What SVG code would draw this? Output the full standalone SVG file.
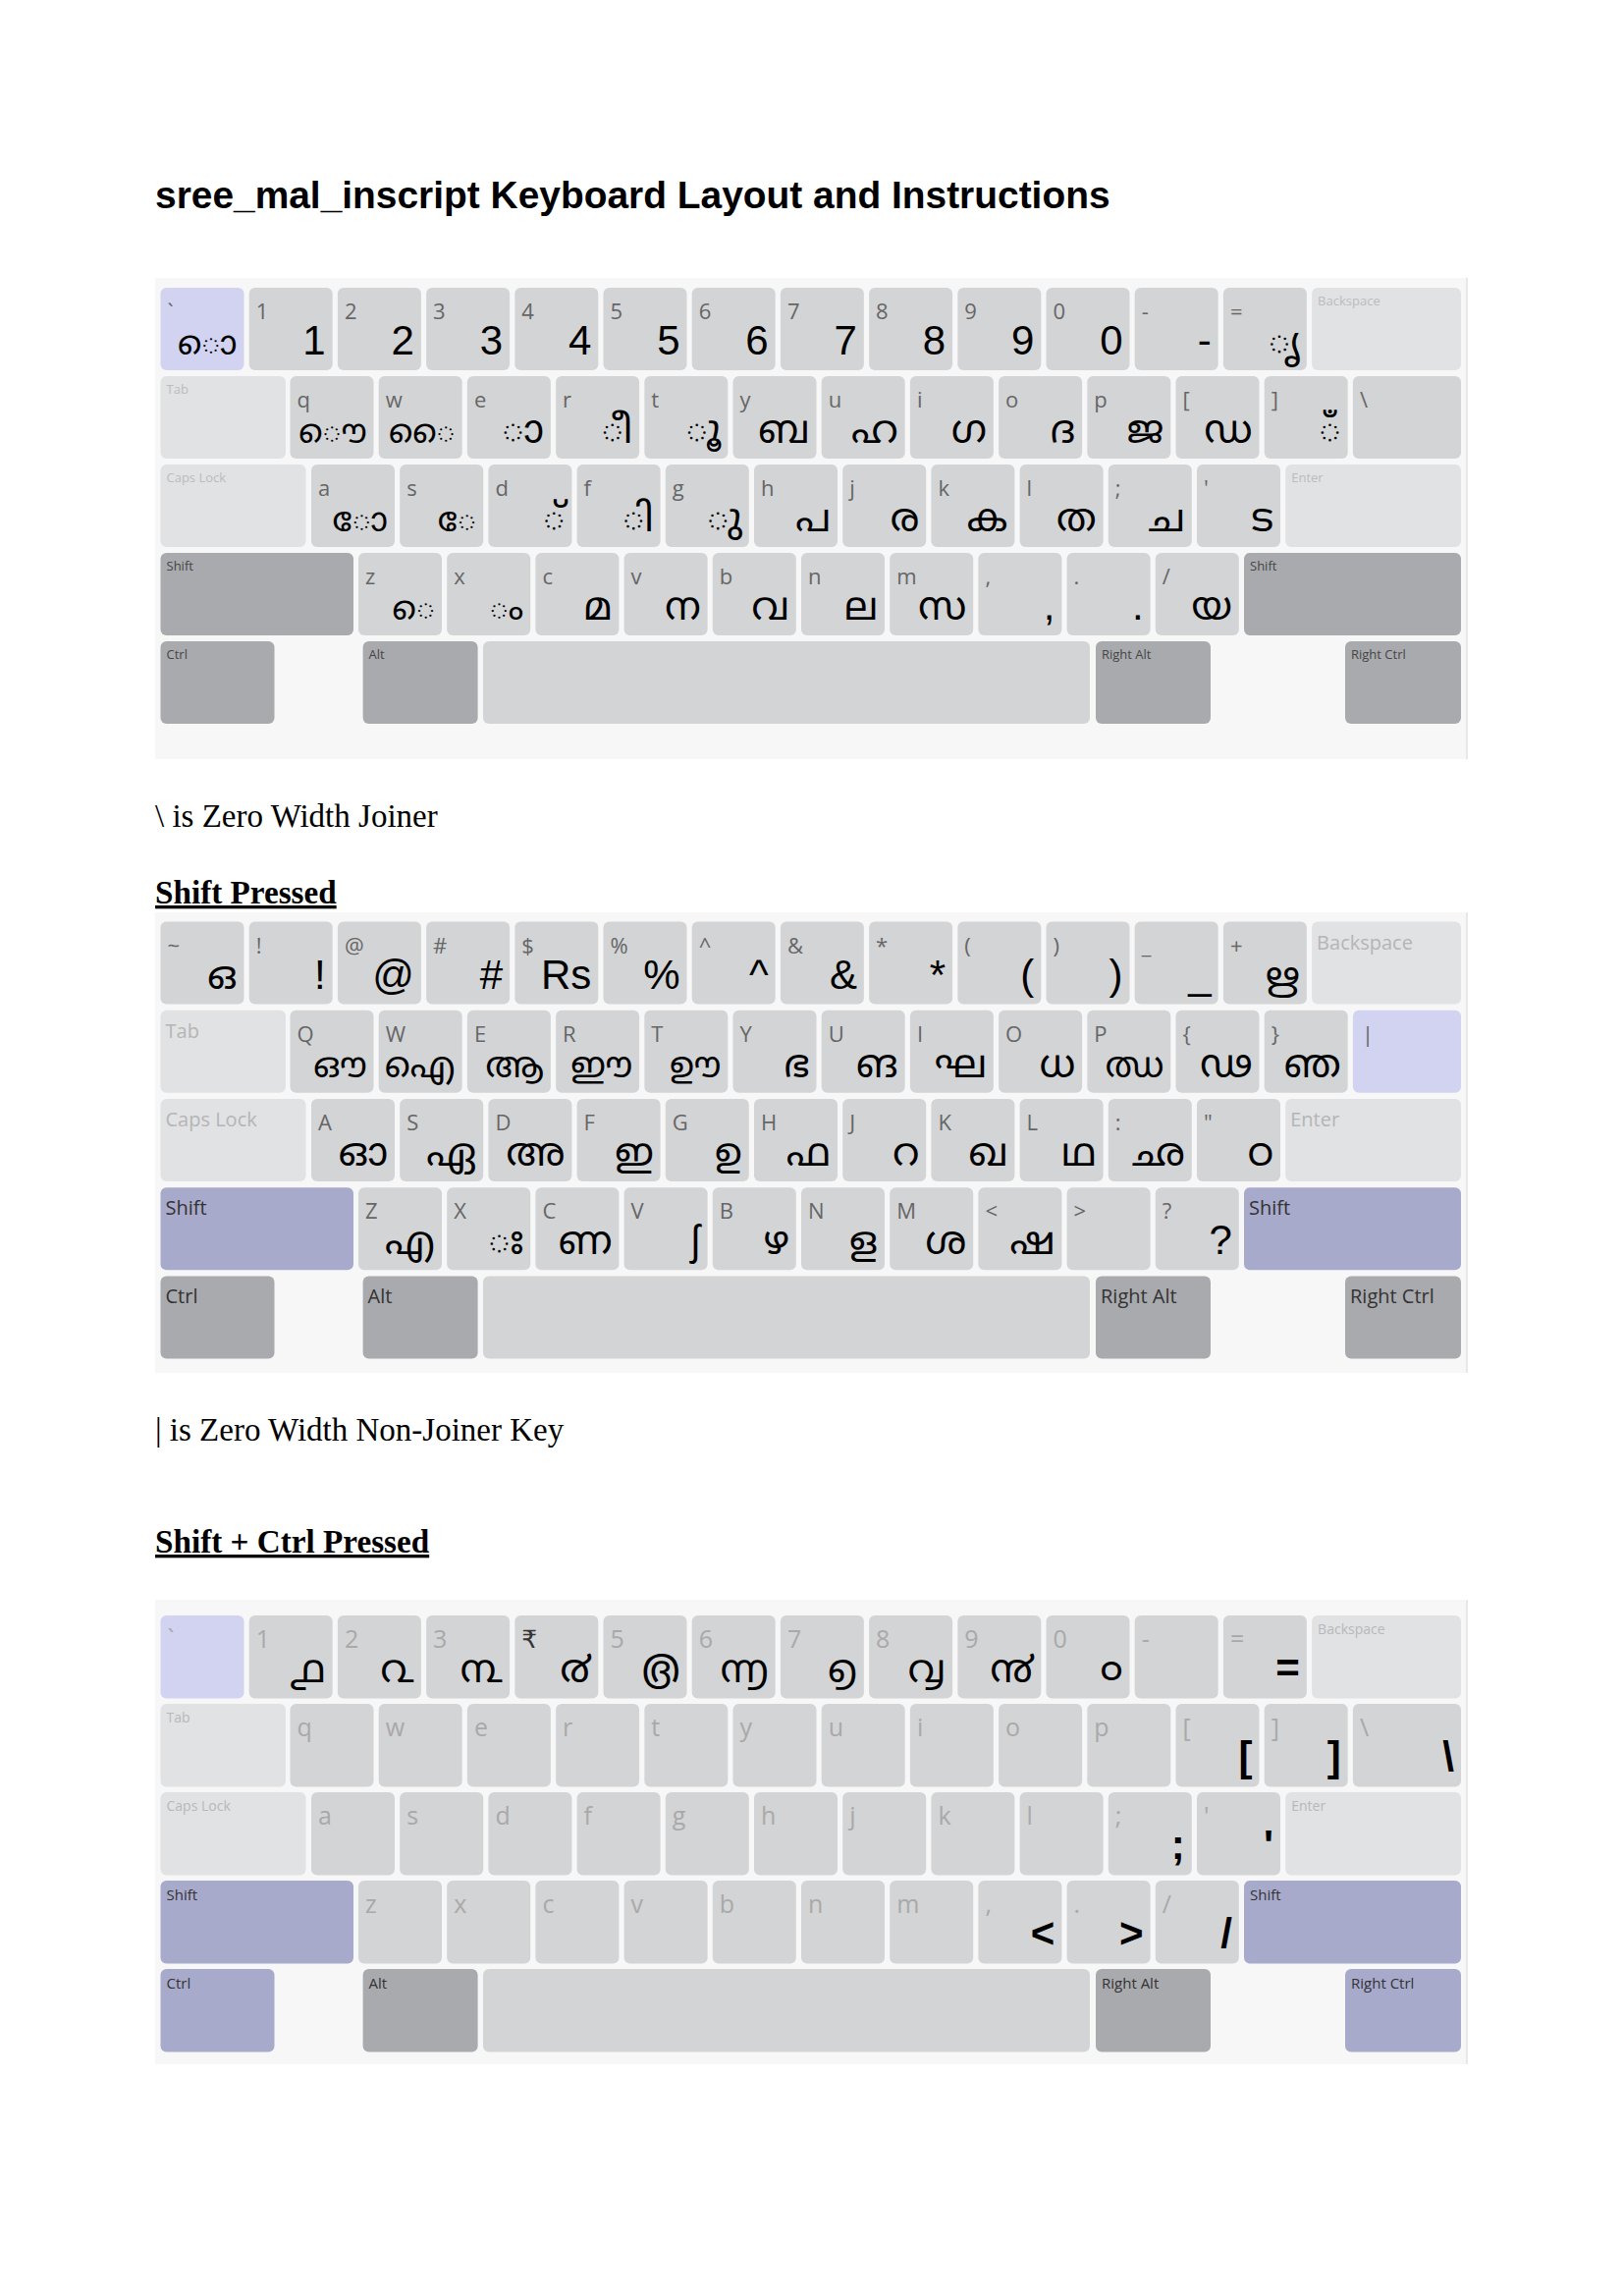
<svg xmlns="http://www.w3.org/2000/svg" width="1653" height="2338" viewBox="0 0 1653 2338">
<style>
.pn{fill:#f7f7f7}
.n{fill:#d3d4d6}.l{fill:#e1e2e4}.d{fill:#a9aaad}.v{fill:#d1d3f1}.s{fill:#a8aacc}
text{font-family:"Open Sans","DejaVu Sans",sans-serif}
.t{font-size:22px;fill:#666}
.t3{font-size:25px;fill:#a9a9a9}
.t3d{font-size:25px;fill:#333}
.q1{font-size:13px;fill:#bcbcbc}.m1{font-size:13px;fill:#454545}
.q2{font-size:20px;fill:#b5b5b5}.m2{font-size:20px;fill:#333}
.q3{font-size:14px;fill:#b8b8b8}.m3{font-size:15px;fill:#333}
.b{font-family:"Liberation Sans",Arial,sans-serif;font-size:42px;fill:#000;text-anchor:end}
.bb{font-family:"Liberation Sans",Arial,sans-serif;font-size:42px;font-weight:bold;fill:#000;text-anchor:end}
.ml{font-family:"Noto Sans Malayalam","Noto Serif Malayalam","Manjari","Meera","Rachana","Lohit Malayalam","Noto Sans",sans-serif;font-size:40px;fill:#000;text-anchor:end}
.ms{font-size:34px}
.mw{font-size:36px}
.h1{font-family:"Liberation Sans",Arial,sans-serif;font-weight:bold;font-size:38.9px;fill:#000}
.p{font-family:"Liberation Serif","Times New Roman",serif;font-size:33px;fill:#000}
.hd{font-family:"Liberation Serif","Times New Roman",serif;font-size:33.2px;font-weight:bold;fill:#000;text-decoration:underline}
.edge{stroke:#e2e2e2;stroke-width:1.5}
</style>

<text class="h1" x="158" y="212">sree_mal_inscript Keyboard Layout and Instructions</text>

<!-- Keyboard 1 -->
<g id="kb-normal">
<rect class="pn" x="158" y="283" width="1336" height="490"/>
<line class="edge" x1="1494" y1="283" x2="1494" y2="773"/>
<g id="a-grave" transform="translate(163.5,293)"><rect class="v" width="85" height="84" rx="6"/><text class="t" x="7" y="32">`</text><text class="ml ms" x="78" y="68">ൊ</text></g>
<g id="a-1" transform="translate(253.7,293)"><rect class="n" width="85" height="84" rx="6"/><text class="t" x="7" y="32">1</text><text class="b" x="78" y="68">1</text></g>
<g id="a-2" transform="translate(343.9,293)"><rect class="n" width="85" height="84" rx="6"/><text class="t" x="7" y="32">2</text><text class="b" x="78" y="68">2</text></g>
<g id="a-3" transform="translate(434.1,293)"><rect class="n" width="85" height="84" rx="6"/><text class="t" x="7" y="32">3</text><text class="b" x="78" y="68">3</text></g>
<g id="a-4" transform="translate(524.3,293)"><rect class="n" width="85" height="84" rx="6"/><text class="t" x="7" y="32">4</text><text class="b" x="78" y="68">4</text></g>
<g id="a-5" transform="translate(614.5,293)"><rect class="n" width="85" height="84" rx="6"/><text class="t" x="7" y="32">5</text><text class="b" x="78" y="68">5</text></g>
<g id="a-6" transform="translate(704.7,293)"><rect class="n" width="85" height="84" rx="6"/><text class="t" x="7" y="32">6</text><text class="b" x="78" y="68">6</text></g>
<g id="a-7" transform="translate(794.9,293)"><rect class="n" width="85" height="84" rx="6"/><text class="t" x="7" y="32">7</text><text class="b" x="78" y="68">7</text></g>
<g id="a-8" transform="translate(885.1,293)"><rect class="n" width="85" height="84" rx="6"/><text class="t" x="7" y="32">8</text><text class="b" x="78" y="68">8</text></g>
<g id="a-9" transform="translate(975.3,293)"><rect class="n" width="85" height="84" rx="6"/><text class="t" x="7" y="32">9</text><text class="b" x="78" y="68">9</text></g>
<g id="a-0" transform="translate(1065.5,293)"><rect class="n" width="85" height="84" rx="6"/><text class="t" x="7" y="32">0</text><text class="b" x="78" y="68">0</text></g>
<g id="a-minus" transform="translate(1155.7,293)"><rect class="n" width="85" height="84" rx="6"/><text class="t" x="7" y="32">-</text><text class="b" x="78" y="68">-</text></g>
<g id="a-equal" transform="translate(1245.9,293)"><rect class="n" width="85" height="84" rx="6"/><text class="t" x="7" y="32">=</text><text class="ml" x="78" y="68">ൃ</text></g>
<g id="a-bksp" transform="translate(1336.1,293)"><rect class="l" width="151.9" height="84" rx="6"/><text class="q1" x="6" y="18">Backspace</text></g>

<g id="a-tab" transform="translate(163.5,383)"><rect class="l" width="127.5" height="84" rx="6"/><text class="q1" x="6" y="18">Tab</text></g>
<g id="a-q" transform="translate(295.5,383)"><rect class="n" width="85" height="84" rx="6"/><text class="t" x="7" y="32">q</text><text class="ml ms" x="78" y="68">ൌ</text></g>
<g id="a-w" transform="translate(385.7,383)"><rect class="n" width="85" height="84" rx="6"/><text class="t" x="7" y="32">w</text><text class="ml ms" x="78" y="68">ൈ</text></g>
<g id="a-e" transform="translate(475.9,383)"><rect class="n" width="85" height="84" rx="6"/><text class="t" x="7" y="32">e</text><text class="ml" x="78" y="68">ാ</text></g>
<g id="a-r" transform="translate(566.1,383)"><rect class="n" width="85" height="84" rx="6"/><text class="t" x="7" y="32">r</text><text class="ml" x="78" y="68">ീ</text></g>
<g id="a-t" transform="translate(656.3,383)"><rect class="n" width="85" height="84" rx="6"/><text class="t" x="7" y="32">t</text><text class="ml" x="78" y="68">ൂ</text></g>
<g id="a-y" transform="translate(746.5,383)"><rect class="n" width="85" height="84" rx="6"/><text class="t" x="7" y="32">y</text><text class="ml" x="78" y="68">ബ</text></g>
<g id="a-u" transform="translate(836.7,383)"><rect class="n" width="85" height="84" rx="6"/><text class="t" x="7" y="32">u</text><text class="ml" x="78" y="68">ഹ</text></g>
<g id="a-i" transform="translate(926.9,383)"><rect class="n" width="85" height="84" rx="6"/><text class="t" x="7" y="32">i</text><text class="ml" x="78" y="68">ഗ</text></g>
<g id="a-o" transform="translate(1017.1,383)"><rect class="n" width="85" height="84" rx="6"/><text class="t" x="7" y="32">o</text><text class="ml" x="78" y="68">ദ</text></g>
<g id="a-p" transform="translate(1107.3,383)"><rect class="n" width="85" height="84" rx="6"/><text class="t" x="7" y="32">p</text><text class="ml" x="78" y="68">ജ</text></g>
<g id="a-lbr" transform="translate(1197.5,383)"><rect class="n" width="85" height="84" rx="6"/><text class="t" x="7" y="32">[</text><text class="ml" x="78" y="68">ഡ</text></g>
<g id="a-rbr" transform="translate(1287.7,383)"><rect class="n" width="85" height="84" rx="6"/><text class="t" x="7" y="32">]</text><text class="ml" x="78" y="68">ഁ</text></g>
<g id="a-bsl" transform="translate(1377.9,383)"><rect class="n" width="110.1" height="84" rx="6"/><text class="t" x="7" y="32">\</text></g>

<g id="a-caps" transform="translate(163.5,473)"><rect class="l" width="148" height="84" rx="6"/><text class="q1" x="6" y="18">Caps Lock</text></g>
<g id="a-a" transform="translate(317,473)"><rect class="n" width="85" height="84" rx="6"/><text class="t" x="7" y="32">a</text><text class="ml ms" x="78" y="68">ോ</text></g>
<g id="a-s" transform="translate(407.2,473)"><rect class="n" width="85" height="84" rx="6"/><text class="t" x="7" y="32">s</text><text class="ml ms" x="78" y="68">േ</text></g>
<g id="a-d" transform="translate(497.4,473)"><rect class="n" width="85" height="84" rx="6"/><text class="t" x="7" y="32">d</text><text class="ml" x="78" y="68">്</text></g>
<g id="a-f" transform="translate(587.6,473)"><rect class="n" width="85" height="84" rx="6"/><text class="t" x="7" y="32">f</text><text class="ml" x="78" y="68">ി</text></g>
<g id="a-g" transform="translate(677.8,473)"><rect class="n" width="85" height="84" rx="6"/><text class="t" x="7" y="32">g</text><text class="ml" x="78" y="68">ു</text></g>
<g id="a-h" transform="translate(768,473)"><rect class="n" width="85" height="84" rx="6"/><text class="t" x="7" y="32">h</text><text class="ml" x="78" y="68">പ</text></g>
<g id="a-j" transform="translate(858.2,473)"><rect class="n" width="85" height="84" rx="6"/><text class="t" x="7" y="32">j</text><text class="ml" x="78" y="68">ര</text></g>
<g id="a-k" transform="translate(948.4,473)"><rect class="n" width="85" height="84" rx="6"/><text class="t" x="7" y="32">k</text><text class="ml" x="78" y="68">ക</text></g>
<g id="a-l" transform="translate(1038.6,473)"><rect class="n" width="85" height="84" rx="6"/><text class="t" x="7" y="32">l</text><text class="ml" x="78" y="68">ത</text></g>
<g id="a-semi" transform="translate(1128.8,473)"><rect class="n" width="85" height="84" rx="6"/><text class="t" x="7" y="32">;</text><text class="ml" x="78" y="68">ച</text></g>
<g id="a-quote" transform="translate(1219,473)"><rect class="n" width="85" height="84" rx="6"/><text class="t" x="7" y="32">'</text><text class="ml" x="78" y="68">ട</text></g>
<g id="a-enter" transform="translate(1309.2,473)"><rect class="l" width="178.8" height="84" rx="6"/><text class="q1" x="6" y="18">Enter</text></g>

<g id="a-lshift" transform="translate(163.5,563)"><rect class="d" width="196.5" height="84" rx="6"/><text class="m1" x="6" y="18">Shift</text></g>
<g id="a-z" transform="translate(365,563)"><rect class="n" width="85" height="84" rx="6"/><text class="t" x="7" y="32">z</text><text class="ml ms" x="78" y="68">െ</text></g>
<g id="a-x" transform="translate(455.2,563)"><rect class="n" width="85" height="84" rx="6"/><text class="t" x="7" y="32">x</text><text class="ml ms" x="78" y="68">ം</text></g>
<g id="a-c" transform="translate(545.4,563)"><rect class="n" width="85" height="84" rx="6"/><text class="t" x="7" y="32">c</text><text class="ml" x="78" y="68">മ</text></g>
<g id="a-v" transform="translate(635.6,563)"><rect class="n" width="85" height="84" rx="6"/><text class="t" x="7" y="32">v</text><text class="ml" x="78" y="68">ന</text></g>
<g id="a-b" transform="translate(725.8,563)"><rect class="n" width="85" height="84" rx="6"/><text class="t" x="7" y="32">b</text><text class="ml" x="78" y="68">വ</text></g>
<g id="a-n" transform="translate(816,563)"><rect class="n" width="85" height="84" rx="6"/><text class="t" x="7" y="32">n</text><text class="ml" x="78" y="68">ല</text></g>
<g id="a-m" transform="translate(906.2,563)"><rect class="n" width="85" height="84" rx="6"/><text class="t" x="7" y="32">m</text><text class="ml" x="78" y="68">സ</text></g>
<g id="a-comma" transform="translate(996.4,563)"><rect class="n" width="85" height="84" rx="6"/><text class="t" x="7" y="32">,</text><text class="b" x="78" y="68">,</text></g>
<g id="a-period" transform="translate(1086.6,563)"><rect class="n" width="85" height="84" rx="6"/><text class="t" x="7" y="32">.</text><text class="b" x="78" y="68">.</text></g>
<g id="a-slash" transform="translate(1176.8,563)"><rect class="n" width="85" height="84" rx="6"/><text class="t" x="7" y="32">/</text><text class="ml" x="78" y="68">യ</text></g>
<g id="a-rshift" transform="translate(1267,563)"><rect class="d" width="221" height="84" rx="6"/><text class="m1" x="6" y="18">Shift</text></g>

<g id="a-lctrl" transform="translate(163.5,653)"><rect class="d" width="116" height="84" rx="6"/><text class="m1" x="6" y="18">Ctrl</text></g>
<g id="a-lalt" transform="translate(369.6,653)"><rect class="d" width="117" height="84" rx="6"/><text class="m1" x="6" y="18">Alt</text></g>
<g id="a-space" transform="translate(492,653)"><rect class="n" width="618" height="84" rx="6"/></g>
<g id="a-ralt" transform="translate(1116,653)"><rect class="d" width="117" height="84" rx="6"/><text class="m1" x="6" y="18">Right Alt</text></g>
<g id="a-rctrl" transform="translate(1370,653)"><rect class="d" width="118" height="84" rx="6"/><text class="m1" x="6" y="18">Right Ctrl</text></g>
</g>

<text class="p" x="158" y="842">\ is Zero Width Joiner</text>
<text class="hd" x="158" y="920">Shift Pressed</text>

<!-- Keyboard 2 -->
<g id="kb-shift">
<rect class="pn" x="158" y="929" width="1336" height="469"/>
<line class="edge" x1="1494" y1="929" x2="1494" y2="1398"/>
<g id="b-tilde" transform="translate(163.5,938.5)"><rect class="n" width="85" height="84" rx="6"/><text class="t" x="7" y="32">~</text><text class="ml" x="78" y="68">ഒ</text></g>
<g id="b-excl" transform="translate(253.7,938.5)"><rect class="n" width="85" height="84" rx="6"/><text class="t" x="7" y="32">!</text><text class="b" x="78" y="68">!</text></g>
<g id="b-at" transform="translate(343.9,938.5)"><rect class="n" width="85" height="84" rx="6"/><text class="t" x="7" y="32">@</text><text class="b" x="78" y="68">@</text></g>
<g id="b-hash" transform="translate(434.1,938.5)"><rect class="n" width="85" height="84" rx="6"/><text class="t" x="7" y="32">#</text><text class="b" x="78" y="68">#</text></g>
<g id="b-dollar" transform="translate(524.3,938.5)"><rect class="n" width="85" height="84" rx="6"/><text class="t" x="7" y="32">$</text><text class="b" x="78" y="68">Rs</text></g>
<g id="b-percent" transform="translate(614.5,938.5)"><rect class="n" width="85" height="84" rx="6"/><text class="t" x="7" y="32">%</text><text class="b" x="78" y="68">%</text></g>
<g id="b-caret" transform="translate(704.7,938.5)"><rect class="n" width="85" height="84" rx="6"/><text class="t" x="7" y="32">^</text><text class="b" x="78" y="68">^</text></g>
<g id="b-amp" transform="translate(794.9,938.5)"><rect class="n" width="85" height="84" rx="6"/><text class="t" x="7" y="32">&amp;</text><text class="b" x="78" y="68">&amp;</text></g>
<g id="b-star" transform="translate(885.1,938.5)"><rect class="n" width="85" height="84" rx="6"/><text class="t" x="7" y="32">*</text><text class="b" x="78" y="68">*</text></g>
<g id="b-lpar" transform="translate(975.3,938.5)"><rect class="n" width="85" height="84" rx="6"/><text class="t" x="7" y="32">(</text><text class="b" x="78" y="68">(</text></g>
<g id="b-rpar" transform="translate(1065.5,938.5)"><rect class="n" width="85" height="84" rx="6"/><text class="t" x="7" y="32">)</text><text class="b" x="78" y="68">)</text></g>
<g id="b-under" transform="translate(1155.7,938.5)"><rect class="n" width="85" height="84" rx="6"/><text class="t" x="7" y="32">_</text><text class="b" x="78" y="68">_</text></g>
<g id="b-plus" transform="translate(1245.9,938.5)"><rect class="n" width="85" height="84" rx="6"/><text class="t" x="7" y="32">+</text><text class="ml" x="78" y="68">ഋ</text></g>
<g id="b-bksp" transform="translate(1336.1,938.5)"><rect class="l" width="151.9" height="84" rx="6"/><text class="q2" x="5" y="28">Backspace</text></g>

<g id="b-tab" transform="translate(163.5,1028.8)"><rect class="l" width="127.5" height="84" rx="6"/><text class="q2" x="5" y="28">Tab</text></g>
<g id="b-Q" transform="translate(295.5,1028.8)"><rect class="n" width="85" height="84" rx="6"/><text class="t" x="7" y="32">Q</text><text class="ml mw" x="78" y="68">ഔ</text></g>
<g id="b-W" transform="translate(385.7,1028.8)"><rect class="n" width="85" height="84" rx="6"/><text class="t" x="7" y="32">W</text><text class="ml mw" x="78" y="68">ഐ</text></g>
<g id="b-E" transform="translate(475.9,1028.8)"><rect class="n" width="85" height="84" rx="6"/><text class="t" x="7" y="32">E</text><text class="ml mw" x="78" y="68">ആ</text></g>
<g id="b-R" transform="translate(566.1,1028.8)"><rect class="n" width="85" height="84" rx="6"/><text class="t" x="7" y="32">R</text><text class="ml mw" x="78" y="68">ഈ</text></g>
<g id="b-T" transform="translate(656.3,1028.8)"><rect class="n" width="85" height="84" rx="6"/><text class="t" x="7" y="32">T</text><text class="ml mw" x="78" y="68">ഊ</text></g>
<g id="b-Y" transform="translate(746.5,1028.8)"><rect class="n" width="85" height="84" rx="6"/><text class="t" x="7" y="32">Y</text><text class="ml" x="78" y="68">ഭ</text></g>
<g id="b-U" transform="translate(836.7,1028.8)"><rect class="n" width="85" height="84" rx="6"/><text class="t" x="7" y="32">U</text><text class="ml" x="78" y="68">ങ</text></g>
<g id="b-I" transform="translate(926.9,1028.8)"><rect class="n" width="85" height="84" rx="6"/><text class="t" x="7" y="32">I</text><text class="ml" x="78" y="68">ഘ</text></g>
<g id="b-O" transform="translate(1017.1,1028.8)"><rect class="n" width="85" height="84" rx="6"/><text class="t" x="7" y="32">O</text><text class="ml" x="78" y="68">ധ</text></g>
<g id="b-P" transform="translate(1107.3,1028.8)"><rect class="n" width="85" height="84" rx="6"/><text class="t" x="7" y="32">P</text><text class="ml mw" x="78" y="68">ഝ</text></g>
<g id="b-lbrace" transform="translate(1197.5,1028.8)"><rect class="n" width="85" height="84" rx="6"/><text class="t" x="7" y="32">{</text><text class="ml" x="78" y="68">ഢ</text></g>
<g id="b-rbrace" transform="translate(1287.7,1028.8)"><rect class="n" width="85" height="84" rx="6"/><text class="t" x="7" y="32">}</text><text class="ml" x="78" y="68">ഞ</text></g>
<g id="b-pipe" transform="translate(1377.9,1028.8)"><rect class="v" width="110.1" height="84" rx="6"/><text class="t" x="9" y="32">|</text></g>

<g id="b-caps" transform="translate(163.5,1119)"><rect class="l" width="148" height="84" rx="6"/><text class="q2" x="5" y="28">Caps Lock</text></g>
<g id="b-A" transform="translate(317,1119)"><rect class="n" width="85" height="84" rx="6"/><text class="t" x="7" y="32">A</text><text class="ml" x="78" y="68">ഓ</text></g>
<g id="b-S" transform="translate(407.2,1119)"><rect class="n" width="85" height="84" rx="6"/><text class="t" x="7" y="32">S</text><text class="ml" x="78" y="68">ഏ</text></g>
<g id="b-D" transform="translate(497.4,1119)"><rect class="n" width="85" height="84" rx="6"/><text class="t" x="7" y="32">D</text><text class="ml" x="78" y="68">അ</text></g>
<g id="b-F" transform="translate(587.6,1119)"><rect class="n" width="85" height="84" rx="6"/><text class="t" x="7" y="32">F</text><text class="ml" x="78" y="68">ഇ</text></g>
<g id="b-G" transform="translate(677.8,1119)"><rect class="n" width="85" height="84" rx="6"/><text class="t" x="7" y="32">G</text><text class="ml" x="78" y="68">ഉ</text></g>
<g id="b-H" transform="translate(768,1119)"><rect class="n" width="85" height="84" rx="6"/><text class="t" x="7" y="32">H</text><text class="ml" x="78" y="68">ഫ</text></g>
<g id="b-J" transform="translate(858.2,1119)"><rect class="n" width="85" height="84" rx="6"/><text class="t" x="7" y="32">J</text><text class="ml" x="78" y="68">റ</text></g>
<g id="b-K" transform="translate(948.4,1119)"><rect class="n" width="85" height="84" rx="6"/><text class="t" x="7" y="32">K</text><text class="ml" x="78" y="68">ഖ</text></g>
<g id="b-L" transform="translate(1038.6,1119)"><rect class="n" width="85" height="84" rx="6"/><text class="t" x="7" y="32">L</text><text class="ml" x="78" y="68">ഥ</text></g>
<g id="b-colon" transform="translate(1128.8,1119)"><rect class="n" width="85" height="84" rx="6"/><text class="t" x="7" y="32">:</text><text class="ml" x="78" y="68">ഛ</text></g>
<g id="b-dquote" transform="translate(1219,1119)"><rect class="n" width="85" height="84" rx="6"/><text class="t" x="7" y="32">"</text><text class="ml" x="78" y="68">ഠ</text></g>
<g id="b-enter" transform="translate(1309.2,1119)"><rect class="l" width="178.8" height="84" rx="6"/><text class="q2" x="5" y="28">Enter</text></g>

<g id="b-lshift" transform="translate(163.5,1209.2)"><rect class="s" width="196.5" height="84" rx="6"/><text class="m2" x="5" y="28">Shift</text></g>
<g id="b-Z" transform="translate(365,1209.2)"><rect class="n" width="85" height="84" rx="6"/><text class="t" x="7" y="32">Z</text><text class="ml" x="78" y="68">എ</text></g>
<g id="b-X" transform="translate(455.2,1209.2)"><rect class="n" width="85" height="84" rx="6"/><text class="t" x="7" y="32">X</text><text class="ml" x="78" y="68">ഃ</text></g>
<g id="b-C" transform="translate(545.4,1209.2)"><rect class="n" width="85" height="84" rx="6"/><text class="t" x="7" y="32">C</text><text class="ml" x="78" y="68">ണ</text></g>
<g id="b-V" transform="translate(635.6,1209.2)"><rect class="n" width="85" height="84" rx="6"/><text class="t" x="7" y="32">V</text><text class="ml" x="78" y="68">ʃ</text></g>
<g id="b-B" transform="translate(725.8,1209.2)"><rect class="n" width="85" height="84" rx="6"/><text class="t" x="7" y="32">B</text><text class="ml" x="78" y="68">ഴ</text></g>
<g id="b-N" transform="translate(816,1209.2)"><rect class="n" width="85" height="84" rx="6"/><text class="t" x="7" y="32">N</text><text class="ml" x="78" y="68">ള</text></g>
<g id="b-M" transform="translate(906.2,1209.2)"><rect class="n" width="85" height="84" rx="6"/><text class="t" x="7" y="32">M</text><text class="ml" x="78" y="68">ശ</text></g>
<g id="b-lt" transform="translate(996.4,1209.2)"><rect class="n" width="85" height="84" rx="6"/><text class="t" x="7" y="32">&lt;</text><text class="ml" x="78" y="68">ഷ</text></g>
<g id="b-gt" transform="translate(1086.6,1209.2)"><rect class="n" width="85" height="84" rx="6"/><text class="t" x="7" y="32">&gt;</text></g>
<g id="b-qmark" transform="translate(1176.8,1209.2)"><rect class="n" width="85" height="84" rx="6"/><text class="t" x="7" y="32">?</text><text class="b" x="78" y="68">?</text></g>
<g id="b-rshift" transform="translate(1267,1209.2)"><rect class="s" width="221" height="84" rx="6"/><text class="m2" x="5" y="28">Shift</text></g>

<g id="b-lctrl" transform="translate(163.5,1299.4)"><rect class="d" width="116" height="84" rx="6"/><text class="m2" x="5" y="28">Ctrl</text></g>
<g id="b-lalt" transform="translate(369.6,1299.4)"><rect class="d" width="117" height="84" rx="6"/><text class="m2" x="5" y="28">Alt</text></g>
<g id="b-space" transform="translate(492,1299.4)"><rect class="n" width="618" height="84" rx="6"/></g>
<g id="b-ralt" transform="translate(1116,1299.4)"><rect class="d" width="117" height="84" rx="6"/><text class="m2" x="5" y="28">Right Alt</text></g>
<g id="b-rctrl" transform="translate(1370,1299.4)"><rect class="d" width="118" height="84" rx="6"/><text class="m2" x="5" y="28">Right Ctrl</text></g>
</g>

<text class="p" x="158" y="1467">| is Zero Width Non-Joiner Key</text>
<text class="hd" x="158" y="1581">Shift + Ctrl Pressed</text>

<!-- Keyboard 3 -->
<g id="kb-shift-ctrl">
<rect class="pn" x="158" y="1629" width="1336" height="473"/>
<line class="edge" x1="1494" y1="1629" x2="1494" y2="2102"/>
<g id="c-grave" transform="translate(163.5,1645)"><rect class="v" width="85" height="84.5" rx="6"/><text class="t3" x="7" y="33">`</text></g>
<g id="c-1" transform="translate(253.7,1645)"><rect class="n" width="85" height="84.5" rx="6"/><text class="t3" x="7" y="33">1</text><text class="ml" x="78" y="68">൧</text></g>
<g id="c-2" transform="translate(343.9,1645)"><rect class="n" width="85" height="84.5" rx="6"/><text class="t3" x="7" y="33">2</text><text class="ml" x="78" y="68">൨</text></g>
<g id="c-3" transform="translate(434.1,1645)"><rect class="n" width="85" height="84.5" rx="6"/><text class="t3" x="7" y="33">3</text><text class="ml" x="78" y="68">൩</text></g>
<g id="c-4" transform="translate(524.3,1645)"><rect class="n" width="85" height="84.5" rx="6"/><text class="t3d" x="7" y="33">₹</text><text class="ml" x="78" y="68">൪</text></g>
<g id="c-5" transform="translate(614.5,1645)"><rect class="n" width="85" height="84.5" rx="6"/><text class="t3" x="7" y="33">5</text><text class="ml" x="78" y="68">൫</text></g>
<g id="c-6" transform="translate(704.7,1645)"><rect class="n" width="85" height="84.5" rx="6"/><text class="t3" x="7" y="33">6</text><text class="ml" x="78" y="68">൬</text></g>
<g id="c-7" transform="translate(794.9,1645)"><rect class="n" width="85" height="84.5" rx="6"/><text class="t3" x="7" y="33">7</text><text class="ml" x="78" y="68">൭</text></g>
<g id="c-8" transform="translate(885.1,1645)"><rect class="n" width="85" height="84.5" rx="6"/><text class="t3" x="7" y="33">8</text><text class="ml" x="78" y="68">൮</text></g>
<g id="c-9" transform="translate(975.3,1645)"><rect class="n" width="85" height="84.5" rx="6"/><text class="t3" x="7" y="33">9</text><text class="ml" x="78" y="68">൯</text></g>
<g id="c-0" transform="translate(1065.5,1645)"><rect class="n" width="85" height="84.5" rx="6"/><text class="t3" x="7" y="33">0</text><text class="ml" x="78" y="68">൦</text></g>
<g id="c-minus" transform="translate(1155.7,1645)"><rect class="n" width="85" height="84.5" rx="6"/><text class="t3" x="7" y="33">-</text></g>
<g id="c-equal" transform="translate(1245.9,1645)"><rect class="n" width="85" height="84.5" rx="6"/><text class="t3" x="7" y="33">=</text><text class="bb" x="78" y="68">=</text></g>
<g id="c-bksp" transform="translate(1336.1,1645)"><rect class="l" width="151.9" height="84.5" rx="6"/><text class="q3" x="6" y="19">Backspace</text></g>

<g id="c-tab" transform="translate(163.5,1735)"><rect class="l" width="127.5" height="84.5" rx="6"/><text class="q3" x="6" y="19">Tab</text></g>
<g id="c-q" transform="translate(295.5,1735)"><rect class="n" width="85" height="84.5" rx="6"/><text class="t3" x="7" y="33">q</text></g>
<g id="c-w" transform="translate(385.7,1735)"><rect class="n" width="85" height="84.5" rx="6"/><text class="t3" x="7" y="33">w</text></g>
<g id="c-e" transform="translate(475.9,1735)"><rect class="n" width="85" height="84.5" rx="6"/><text class="t3" x="7" y="33">e</text></g>
<g id="c-r" transform="translate(566.1,1735)"><rect class="n" width="85" height="84.5" rx="6"/><text class="t3" x="7" y="33">r</text></g>
<g id="c-t" transform="translate(656.3,1735)"><rect class="n" width="85" height="84.5" rx="6"/><text class="t3" x="7" y="33">t</text></g>
<g id="c-y" transform="translate(746.5,1735)"><rect class="n" width="85" height="84.5" rx="6"/><text class="t3" x="7" y="33">y</text></g>
<g id="c-u" transform="translate(836.7,1735)"><rect class="n" width="85" height="84.5" rx="6"/><text class="t3" x="7" y="33">u</text></g>
<g id="c-i" transform="translate(926.9,1735)"><rect class="n" width="85" height="84.5" rx="6"/><text class="t3" x="7" y="33">i</text></g>
<g id="c-o" transform="translate(1017.1,1735)"><rect class="n" width="85" height="84.5" rx="6"/><text class="t3" x="7" y="33">o</text></g>
<g id="c-p" transform="translate(1107.3,1735)"><rect class="n" width="85" height="84.5" rx="6"/><text class="t3" x="7" y="33">p</text></g>
<g id="c-lbr" transform="translate(1197.5,1735)"><rect class="n" width="85" height="84.5" rx="6"/><text class="t3" x="7" y="33">[</text><text class="bb" x="78" y="68">[</text></g>
<g id="c-rbr" transform="translate(1287.7,1735)"><rect class="n" width="85" height="84.5" rx="6"/><text class="t3" x="7" y="33">]</text><text class="bb" x="78" y="68">]</text></g>
<g id="c-bsl" transform="translate(1377.9,1735)"><rect class="n" width="110.1" height="84.5" rx="6"/><text class="t3" x="7" y="33">\</text><text class="bb" x="103" y="68">\</text></g>

<g id="c-caps" transform="translate(163.5,1825)"><rect class="l" width="148" height="84.5" rx="6"/><text class="q3" x="6" y="19">Caps Lock</text></g>
<g id="c-a" transform="translate(317,1825)"><rect class="n" width="85" height="84.5" rx="6"/><text class="t3" x="7" y="33">a</text></g>
<g id="c-s" transform="translate(407.2,1825)"><rect class="n" width="85" height="84.5" rx="6"/><text class="t3" x="7" y="33">s</text></g>
<g id="c-d" transform="translate(497.4,1825)"><rect class="n" width="85" height="84.5" rx="6"/><text class="t3" x="7" y="33">d</text></g>
<g id="c-f" transform="translate(587.6,1825)"><rect class="n" width="85" height="84.5" rx="6"/><text class="t3" x="7" y="33">f</text></g>
<g id="c-g" transform="translate(677.8,1825)"><rect class="n" width="85" height="84.5" rx="6"/><text class="t3" x="7" y="33">g</text></g>
<g id="c-h" transform="translate(768,1825)"><rect class="n" width="85" height="84.5" rx="6"/><text class="t3" x="7" y="33">h</text></g>
<g id="c-j" transform="translate(858.2,1825)"><rect class="n" width="85" height="84.5" rx="6"/><text class="t3" x="7" y="33">j</text></g>
<g id="c-k" transform="translate(948.4,1825)"><rect class="n" width="85" height="84.5" rx="6"/><text class="t3" x="7" y="33">k</text></g>
<g id="c-l" transform="translate(1038.6,1825)"><rect class="n" width="85" height="84.5" rx="6"/><text class="t3" x="7" y="33">l</text></g>
<g id="c-semi" transform="translate(1128.8,1825)"><rect class="n" width="85" height="84.5" rx="6"/><text class="t3" x="7" y="33">;</text><text class="bb" x="78" y="68">;</text></g>
<g id="c-quote" transform="translate(1219,1825)"><rect class="n" width="85" height="84.5" rx="6"/><text class="t3" x="7" y="33">'</text><text class="bb" x="78" y="68">'</text></g>
<g id="c-enter" transform="translate(1309.2,1825)"><rect class="l" width="178.8" height="84.5" rx="6"/><text class="q3" x="6" y="19">Enter</text></g>

<g id="c-lshift" transform="translate(163.5,1915)"><rect class="s" width="196.5" height="84.5" rx="6"/><text class="m3" x="6" y="20">Shift</text></g>
<g id="c-z" transform="translate(365,1915)"><rect class="n" width="85" height="84.5" rx="6"/><text class="t3" x="7" y="33">z</text></g>
<g id="c-x" transform="translate(455.2,1915)"><rect class="n" width="85" height="84.5" rx="6"/><text class="t3" x="7" y="33">x</text></g>
<g id="c-c" transform="translate(545.4,1915)"><rect class="n" width="85" height="84.5" rx="6"/><text class="t3" x="7" y="33">c</text></g>
<g id="c-v" transform="translate(635.6,1915)"><rect class="n" width="85" height="84.5" rx="6"/><text class="t3" x="7" y="33">v</text></g>
<g id="c-b" transform="translate(725.8,1915)"><rect class="n" width="85" height="84.5" rx="6"/><text class="t3" x="7" y="33">b</text></g>
<g id="c-n" transform="translate(816,1915)"><rect class="n" width="85" height="84.5" rx="6"/><text class="t3" x="7" y="33">n</text></g>
<g id="c-m" transform="translate(906.2,1915)"><rect class="n" width="85" height="84.5" rx="6"/><text class="t3" x="7" y="33">m</text></g>
<g id="c-comma" transform="translate(996.4,1915)"><rect class="n" width="85" height="84.5" rx="6"/><text class="t3" x="7" y="33">,</text><text class="bb" x="78" y="68">&lt;</text></g>
<g id="c-period" transform="translate(1086.6,1915)"><rect class="n" width="85" height="84.5" rx="6"/><text class="t3" x="7" y="33">.</text><text class="bb" x="78" y="68">&gt;</text></g>
<g id="c-slash" transform="translate(1176.8,1915)"><rect class="n" width="85" height="84.5" rx="6"/><text class="t3" x="7" y="33">/</text><text class="bb" x="78" y="68">/</text></g>
<g id="c-rshift" transform="translate(1267,1915)"><rect class="s" width="221" height="84.5" rx="6"/><text class="m3" x="6" y="20">Shift</text></g>

<g id="c-lctrl" transform="translate(163.5,2005)"><rect class="s" width="116" height="84.5" rx="6"/><text class="m3" x="6" y="20">Ctrl</text></g>
<g id="c-lalt" transform="translate(369.6,2005)"><rect class="d" width="117" height="84.5" rx="6"/><text class="m3" x="6" y="20">Alt</text></g>
<g id="c-space" transform="translate(492,2005)"><rect class="n" width="618" height="84.5" rx="6"/></g>
<g id="c-ralt" transform="translate(1116,2005)"><rect class="d" width="117" height="84.5" rx="6"/><text class="m3" x="6" y="20">Right Alt</text></g>
<g id="c-rctrl" transform="translate(1370,2005)"><rect class="s" width="118" height="84.5" rx="6"/><text class="m3" x="6" y="20">Right Ctrl</text></g>
</g>
</svg>
